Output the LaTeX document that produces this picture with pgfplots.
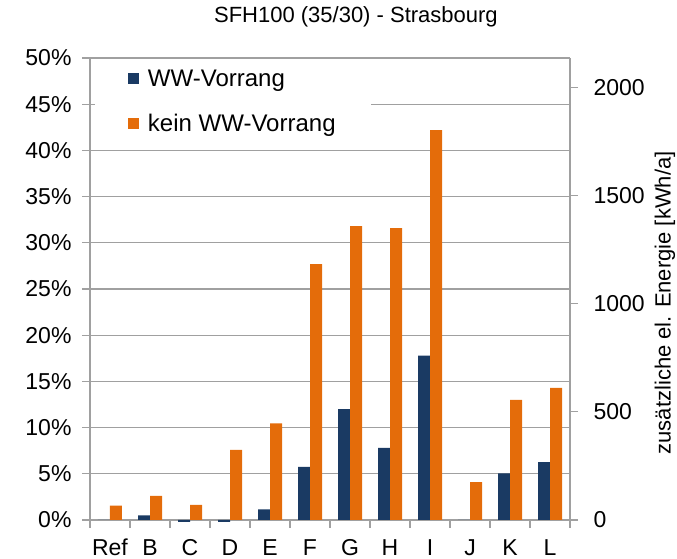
\documentclass[border=0pt]{standalone}
\usepackage{pgfplots}
\pgfplotsset{compat=1.18}
\usepackage{fontspec}
\setmainfont{Liberation Sans}
\definecolor{navy}{HTML}{1A3A63}
\definecolor{orng}{HTML}{E46C0A}
\definecolor{gridc}{HTML}{A0A0A0}
\begin{document}
\begin{tikzpicture}
\path[use as bounding box] (-90pt,-39pt) rectangle (587pt,520pt);
\begin{axis}[
  at={(0,0)}, anchor=south west,
  scale only axis, width=480pt, height=462pt,
  xmin=-0.5, xmax=11.5, ymin=0, ymax=50,
  clip=false,
  ybar, bar width=12pt,
  axis x line*=bottom, axis y line*=left,
  axis line style={gridc, line width=1.2pt, -},
  xtick={0,...,11},
  xticklabels={Ref,B,C,D,E,F,G,H,I,J,K,L},
  major x tick style={draw=none},
  minor xtick={-0.5,0.5,...,11.5},
  minor x tick style={gridc, line width=1.2pt, yshift=-4pt},
  minor tick length=8pt,
  ytick={0,5,...,50},
  yticklabel={\pgfmathprintnumber{\tick}\%},
  major tick length=16pt,
  tick align=center,
  y tick style={gridc, line width=1.2pt},
  ymajorgrids, grid style={gridc, line width=1.2pt},
  tick label style={font=\fontsize{23}{27}\selectfont},
  /pgf/number format/assume math mode=true,
  xticklabel style={anchor=base, yshift=-28pt, inner sep=0pt, text depth=0pt},
  yticklabel style={xshift=-7pt},
  legend style={at={(rel axis cs:0.01,0.99)}, anchor=north west, draw=none, fill=white,
    font=\fontsize{24}{28}\selectfont, row sep=22pt, inner xsep=33pt, inner ysep=5pt,
    /tikz/every odd column/.append style={column sep=7pt}},
  legend cell align=left,
  legend image code/.code={\fill[#1] (0pt,-5.5pt) rectangle (11pt,5.5pt);},
  title={SFH100 (35/30) - Strasbourg},
  title style={font=\fontsize{22}{26}\selectfont, at={(rel axis cs:0.554,1)}, anchor=south, yshift=21pt},
]
\addplot[fill=navy, draw=none, bar shift=-6pt] coordinates {
 (0,0) (1,0.5) (2,-0.2) (3,-0.2) (4,1.16) (5,5.74) (6,12.0) (7,7.8) (8,17.8) (9,0) (10,5.05) (11,6.25)};
\addlegendentry{WW-Vorrang}
\addplot[fill=orng, draw=none, bar shift=6pt] coordinates {
 (0,1.55) (1,2.6) (2,1.65) (3,7.6) (4,10.45) (5,27.7) (6,31.8) (7,31.6) (8,42.2) (9,4.1) (10,13.0) (11,14.3)};
\addlegendentry{kein WW-Vorrang}
\end{axis}
\begin{axis}[
  at={(0,0)}, anchor=south west,
  scale only axis, width=480pt, height=462pt,
  xmin=-0.5, xmax=11.5, ymin=0, ymax=2135,
  axis x line=none, axis y line*=right,
  axis line style={gridc, line width=1.2pt, -},
  ytick={0,500,...,2000},
  tick align=outside, major tick length=8pt,
  y tick style={gridc, line width=1.2pt},
  tick label style={font=\fontsize{23}{27}\selectfont},
  /pgf/number format/assume math mode=true,
  /pgf/number format/1000 sep={},
  yticklabel style={xshift=12pt},
  ylabel={zusätzliche el. Energie [kWh/a]},
  ylabel style={font=\fontsize{22}{26}\selectfont, at={(rel axis cs:1.198,0.47)}, anchor=center},
]
\end{axis}
\end{tikzpicture}
\end{document}
